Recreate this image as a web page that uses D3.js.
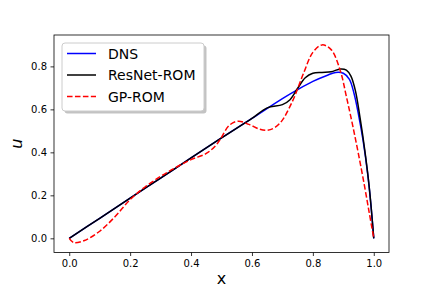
<!DOCTYPE html>
<html>
<head>
<meta charset="utf-8">
<script src="https://cdn.jsdelivr.net/npm/d3@7"></script>
<style>
  body { margin: 0; background: #fff; }
  svg { display: block; font-family: "DejaVu Sans", sans-serif; }
</style>
</head>
<body>
<div class="container"></div>
<script>
const dnsX = [0, 0.1, 0.2, 0.3, 0.4, 0.5, 0.6, 0.7, 0.75, 0.8, 0.85, 0.875, 0.9, 0.92, 0.935, 0.95, 0.965, 0.98, 0.99, 1.0]
const dnsU = [0, 0.093, 0.187, 0.28, 0.374, 0.467, 0.558, 0.65, 0.692, 0.73, 0.76, 0.772, 0.768, 0.74, 0.675, 0.575, 0.455, 0.3, 0.165, 0]

const resX = [0, 0.1, 0.2, 0.3, 0.4, 0.5, 0.6, 0.65, 0.7, 0.725, 0.75, 0.775, 0.8, 0.83, 0.86, 0.89, 0.91, 0.925, 0.94, 0.955, 0.97, 0.985, 1.0]
const resU = [0, 0.093, 0.187, 0.28, 0.374, 0.467, 0.558, 0.607, 0.622, 0.645, 0.698, 0.747, 0.768, 0.772, 0.775, 0.788, 0.783, 0.755, 0.685, 0.56, 0.415, 0.24, 0]

const gpX = [0, 0.015, 0.05, 0.1, 0.15, 0.2, 0.25, 0.3, 0.35, 0.4, 0.45, 0.48, 0.5, 0.525, 0.555, 0.59, 0.625, 0.65, 0.675, 0.7, 0.72, 0.74, 0.77, 0.8, 0.83, 0.86, 0.89, 0.91, 0.93, 0.95, 0.97, 0.985, 1.0]
const gpU = [0, -0.02, -0.01, 0.033, 0.1, 0.18, 0.24, 0.288, 0.33, 0.366, 0.395, 0.43, 0.47, 0.525, 0.545, 0.53, 0.508, 0.503, 0.515, 0.55, 0.6, 0.66, 0.77, 0.865, 0.9, 0.878, 0.78, 0.66, 0.53, 0.39, 0.24, 0.12, 0]

const xTicks = [0, 0.2, 0.4, 0.6, 0.8, 1.0]
const yTicks = [0, 0.2, 0.4, 0.6, 0.8]

const series = [
  { name: 'DNS', xs: dnsX, us: dnsU, color: '#0000ff', dash: null },
  { name: 'ResNet-ROM', xs: resX, us: resU, color: '#000000', dash: null },
  { name: 'GP-ROM', xs: gpX, us: gpU, color: '#ff0000', dash: '5.55,2.4' }
]

const w = 432
const h = 288
const mLeft = 54, mRight = 389, mTop = 35, mBottom = 252.5

const svg = d3.select('.container')
  .append('svg')
  .attr('width', w)
  .attr('height', h)

const xScale = d3.scaleLinear().domain([-0.05, 1.05]).range([mLeft, mRight])
const yScale = d3.scaleLinear().domain([-0.066, 0.946]).range([mBottom, mTop])

const line = d3.line()
  .x(d => xScale(d[0]))
  .y(d => yScale(d[1]))
  .curve(d3.curveCatmullRom.alpha(0.5))

const plot = svg.append('g')

series.forEach(s => {
  plot.append('path')
    .datum(s.xs.map((x, i) => [x, s.us[i]]))
    .attr('d', line)
    .attr('fill', 'none')
    .attr('stroke', s.color)
    .attr('stroke-width', 1.5)
    .attr('stroke-dasharray', s.dash)
})

const xAxis = d3.axisBottom(xScale)
  .tickValues(xTicks)
  .tickFormat(d3.format('.1f'))
  .tickSize(3.5)
  .tickPadding(3.5)
  .tickSizeOuter(0)

const yAxis = d3.axisLeft(yScale)
  .tickValues(yTicks)
  .tickFormat(d3.format('.1f'))
  .tickSize(3.5)
  .tickPadding(3.5)
  .tickSizeOuter(0)

const gx = svg.append('g')
  .attr('transform', `translate(0, ${mBottom})`)
  .call(xAxis)
const gy = svg.append('g')
  .attr('transform', `translate(${mLeft}, 0)`)
  .call(yAxis)

;[gx, gy].forEach(g => {
  g.select('.domain').remove()
  g.selectAll('line').attr('stroke', '#000').attr('stroke-width', 0.8)
  g.selectAll('text').attr('font-size', 10).attr('fill', '#000')
    .attr('font-family', '"DejaVu Sans", sans-serif')
})

// frame
svg.append('rect')
  .attr('x', mLeft)
  .attr('y', mTop)
  .attr('width', mRight - mLeft)
  .attr('height', mBottom - mTop)
  .attr('fill', 'none')
  .attr('stroke', '#000')
  .attr('stroke-width', 0.8)

svg.append('text')
  .text('x')
  .attr('x', (mLeft + mRight) / 2)
  .attr('y', 284)
  .attr('text-anchor', 'middle')
  .attr('font-size', 16)

svg.append('text')
  .text('u')
  .attr('transform', `translate(22, ${(mTop + mBottom) / 2}) rotate(-90)`)
  .attr('text-anchor', 'middle')
  .attr('font-size', 16)
  .attr('font-style', 'italic')

// legend
const lx = 62, ly = 43, lw = 142, lh = 68
const legend = svg.append('g')
legend.append('rect')
  .attr('x', lx + 2.5).attr('y', ly + 2.5)
  .attr('width', lw).attr('height', lh)
  .attr('rx', 3)
  .attr('fill', '#888')
  .attr('opacity', 0.5)
legend.append('rect')
  .attr('x', lx).attr('y', ly)
  .attr('width', lw).attr('height', lh)
  .attr('rx', 3)
  .attr('fill', '#fff')
  .attr('stroke', '#ccc')
  .attr('stroke-width', 1)

series.forEach((s, i) => {
  const yy = 53.5 + i * 21.5
  legend.append('line')
    .attr('x1', 67).attr('x2', 96)
    .attr('y1', yy).attr('y2', yy)
    .attr('stroke', s.color)
    .attr('stroke-width', 1.5)
    .attr('stroke-dasharray', s.dash)
  legend.append('text')
    .text(s.name)
    .attr('x', 108)
    .attr('y', yy + 5)
    .attr('font-size', 14)
})
</script>
</body>
</html>
